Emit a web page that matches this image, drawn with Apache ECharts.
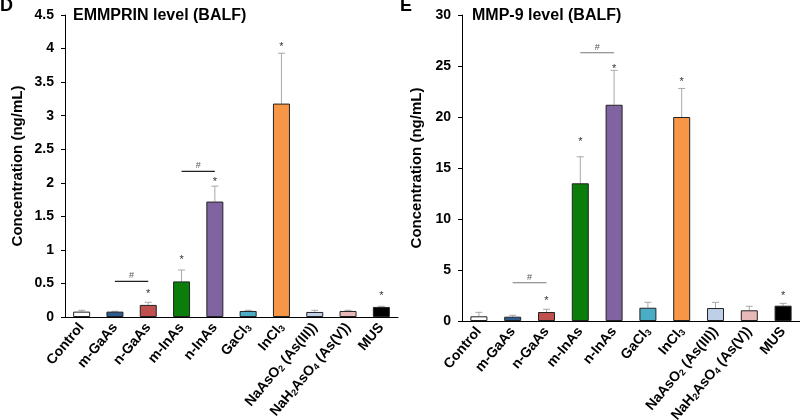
<!DOCTYPE html>
<html>
<head>
<meta charset="utf-8">
<script src="https://cdn.jsdelivr.net/npm/echarts@6/dist/echarts.min.js"></script>
<style>html,body{margin:0;padding:0;background:#fff;}#c{width:800px;height:420px;}</style>
</head>
<body>
<div id="c"></div>
<script>
const categories = ['Control','m-GaAs','n-GaAs','m-InAs','n-InAs','GaCl3','InCl3','NaAsO2 (As(III))','NaH2AsO4 (As(V))','MUS'];
const barColors = ['#ffffff','#2c5c8f','#c0504d','#0a7d0a','#8064a2','#4bacc6','#f79646','#bdd0e8','#e6b9b8','#000000'];

const emmprinMean = [0.08, 0.08, 0.18, 0.53, 1.72, 0.09, 3.18, 0.075, 0.09, 0.15];
const emmprinErr  = [0.02, 0.005, 0.04, 0.17, 0.23, 0.01, 0.75, 0.025, 0.01, 0.01];
const emmprinStar = [null, null, 0.39, 0.89, 2.06, null, 4.07, null, null, 0.36];
const emmprinHash = [[1, 2, 0.53], [3, 4, 2.17]];
const emmprinTicks = {min: 0, max: 4.5, interval: 0.5};

const mmp9Mean = [0.46, 0.42, 0.88, 13.5, 21.2, 1.3, 20.0, 1.27, 1.05, 1.5];
const mmp9Err  = [0.39, 0.14, 0.27, 2.6, 3.37, 0.53, 2.8, 0.56, 0.39, 0.23];
const mmp9Star = [null, null, 2.25, 17.84, 25.0, null, 23.7, null, null, 2.77];
const mmp9Hash = [[1, 2, 3.75], [3, 4, 26.3]];
const mmp9Ticks = {min: 0, max: 30, interval: 5};

const FONT = '"Liberation Sans", Arial, sans-serif';

function fmtLabel(v) {
  return v.split(/(\d)/).filter(s => s.length).map(s => /^\d$/.test(s) ? '{s|' + s + '}' : '{n|' + s + '}').join('');
}

function xAxisFor(gi) {
  return {
    type: 'category', gridIndex: gi, data: categories,
    axisLine: {lineStyle: {color: '#000', width: 1}},
    axisTick: {alignWithLabel: true, length: 4, lineStyle: {color: '#000'}},
    axisLabel: {
      rotate: 50, interval: 0, margin: 8, color: '#000',
      fontFamily: FONT, fontWeight: 'bold', fontSize: 14,
      formatter: fmtLabel,
      rich: {
        n: {fontFamily: FONT, fontWeight: 'bold', fontSize: 14, color: '#000'},
        s: {fontFamily: FONT, fontWeight: 'bold', fontSize: 9, color: '#000', verticalAlign: 'bottom', padding: [6, 0, 0, 0]}
      }
    }
  };
}
function yAxisFor(gi, t, gap) {
  return {
    type: 'value', gridIndex: gi, min: t.min, max: t.max, interval: t.interval,
    splitLine: {show: false},
    axisLine: {show: true, lineStyle: {color: '#000', width: 1}},
    axisTick: {show: true, length: 4, lineStyle: {color: '#000'}},
    axisLabel: {margin: 11, color: '#000', fontFamily: FONT, fontWeight: 'bold', fontSize: 14},
    name: 'Concentration (ng/mL)', nameLocation: 'middle', nameGap: gap,
    nameTextStyle: {fontFamily: FONT, fontWeight: 'bold', fontSize: 15, color: '#000'}
  };
}

function barSeries(gi, mean) {
  return {
    type: 'bar', xAxisIndex: gi, yAxisIndex: gi, barWidth: 17,
    data: mean.map((v, i) => ({value: v, itemStyle: {color: barColors[i], borderColor: '#222', borderWidth: 1}})),
    silent: true, animation: false
  };
}
function errSeries(gi, mean, err) {
  return {
    type: 'custom', xAxisIndex: gi, yAxisIndex: gi, silent: true, animation: false, z: 1,
    data: mean.map((v, i) => [i, v, v + err[i]]),
    encode: {x: 0, y: [1, 2]},
    renderItem: function (params, api) {
      const p0 = api.coord([api.value(0), api.value(1)]);
      const p1 = api.coord([api.value(0), api.value(2)]);
      const st = {stroke: '#a8a8a8', lineWidth: 1};
      return {type: 'group', children: [
        {type: 'line', shape: {x1: p0[0], y1: p0[1], x2: p1[0], y2: p1[1]}, style: st},
        {type: 'line', shape: {x1: p1[0] - 3.5, y1: p1[1], x2: p1[0] + 3.5, y2: p1[1]}, style: st}
      ]};
    }
  };
}
function starSeries(gi, stars) {
  const d = [];
  stars.forEach((v, i) => { if (v !== null) d.push([i, v]); });
  return {
    type: 'custom', xAxisIndex: gi, yAxisIndex: gi, silent: true, animation: false,
    data: d, encode: {x: 0, y: 1},
    renderItem: function (params, api) {
      const p = api.coord([api.value(0), api.value(1)]);
      return {type: 'text', x: p[0], y: p[1] + 3, style: {text: '*', fill: '#333', fontSize: 11, fontFamily: FONT, align: 'center', verticalAlign: 'middle'}};
    }
  };
}
function hashSeries(gi, hashes, color) {
  return {
    type: 'custom', xAxisIndex: gi, yAxisIndex: gi, silent: true, animation: false,
    data: hashes, encode: {x: [0, 1], y: 2},
    renderItem: function (params, api) {
      const a = api.coord([api.value(0), api.value(2)]);
      const b = api.coord([api.value(1), api.value(2)]);
      return {type: 'group', children: [
        {type: 'line', shape: {x1: a[0], y1: a[1], x2: b[0], y2: b[1]}, style: {stroke: color, lineWidth: 1.2}},
        {type: 'text', x: (a[0] + b[0]) / 2, y: a[1] - 1, style: {text: '#', fill: '#555', fontSize: 9, fontFamily: FONT, align: 'center', verticalAlign: 'bottom'}}
      ]};
    }
  };
}

const chart = echarts.init(document.getElementById('c'), null, {renderer: 'canvas'});
chart.setOption({
  animation: false,
  backgroundColor: '#fff',
  title: [
    {text: 'D', left: 0, top: -3, padding: 0, textStyle: {fontFamily: FONT, fontWeight: 'bold', fontSize: 18, color: '#000'}},
    {text: 'E', left: 400, top: -3, padding: 0, textStyle: {fontFamily: FONT, fontWeight: 'bold', fontSize: 18, color: '#000'}},
    {text: 'EMMPRIN level (BALF)', left: 73, top: 8, padding: 0, textStyle: {fontFamily: FONT, fontWeight: 'bold', fontSize: 16, color: '#000'}},
    {text: 'MMP-9 level (BALF)', left: 472, top: 8, padding: 0, textStyle: {fontFamily: FONT, fontWeight: 'bold', fontSize: 16, color: '#000'}}
  ],
  grid: [
    {left: 65, top: 15, width: 333, height: 302, outerBoundsMode: 'none', containLabel: false},
    {left: 462, top: 15, width: 338, height: 306, outerBoundsMode: 'none', containLabel: false}
  ],
  xAxis: [xAxisFor(0), xAxisFor(1)],
  yAxis: [yAxisFor(0, emmprinTicks, 40), yAxisFor(1, mmp9Ticks, 38)],
  series: [
    errSeries(0, emmprinMean, emmprinErr),
    barSeries(0, emmprinMean),
    starSeries(0, emmprinStar),
    hashSeries(0, emmprinHash, '#222'),
    errSeries(1, mmp9Mean, mmp9Err),
    barSeries(1, mmp9Mean),
    starSeries(1, mmp9Star),
    hashSeries(1, mmp9Hash, '#777')
  ]
});
</script>
</body>
</html>
